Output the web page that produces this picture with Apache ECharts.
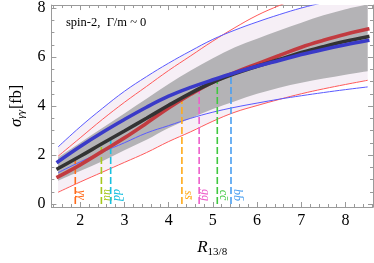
<!DOCTYPE html>
<html><head><meta charset="utf-8">
<script src="https://cdn.jsdelivr.net/npm/echarts@6/dist/echarts.min.js"></script>
<style>html,body{margin:0;padding:0;background:#fff}#c{width:374px;height:263px}</style>
</head><body><div id="c"></div>
<script>
// sample positions along R_13/8
const xs = [1.5,2,2.5,3,3.5,4,4.5,5,5.5,6,6.5,7,7.5,8,8.5];
// thick curves
const combined = [1.45,1.95,2.47,2.98,3.5,4.03,4.53,4.97,5.32,5.62,5.9,6.18,6.42,6.64,6.83];
const atlas    = [1.11,1.6,2.15,2.7,3.3,3.92,4.48,4.98,5.37,5.72,6.06,6.4,6.68,6.93,7.14];
const cms      = [1.73,2.35,2.92,3.45,3.95,4.4,4.76,5.07,5.36,5.62,5.86,6.1,6.31,6.5,6.67];
// thin bound lines
const atlasUp = [1.95,2.7,3.45,4.15,4.8,5.45,6.05,6.65,7.2,7.7,8.1,8.45,8.75,9.05,9.3];
const atlasLo = [0.48,0.9,1.3,1.7,2.1,2.55,2.95,3.38,3.75,4.02,4.27,4.5,4.7,4.88,5.05];
const cmsUp   = [2.33,3.15,3.9,4.6,5.2,5.75,6.25,6.72,7.1,7.43,7.73,8.0,8.22,8.42,8.6];
const cmsLo   = [1.28,1.72,2.12,2.5,2.9,3.2,3.5,3.75,3.95,4.12,4.28,4.42,4.55,4.67,4.78];
// bands
const band1Up = [1.9,2.5,3.1,3.7,4.3,4.9,5.45,5.95,6.4,6.75,7.08,7.4,7.7,7.95,8.15];
const band1Lo = [0.95,1.35,1.75,2.2,2.62,3.1,3.5,3.88,4.2,4.5,4.75,4.95,5.12,5.28,5.42];
const band2Up = [2.33,3.15,3.9,4.6,5.2,5.75,6.25,6.72,7.1,7.43,7.73,8.0,8.22,8.42,8.6];
const band2Lo = [0.48,0.9,1.3,1.7,2.1,2.55,2.95,3.38,3.75,4.02,4.27,4.5,4.7,4.88,5.05];
// production channels: name, R value, top of dashed line
const chNames = ['γγ','uū','dd\u0304','ss\u0304','gg','cc\u0304','bb\u0304'];
const chR     = [1.89,2.48,2.69,4.3,4.69,5.1,5.41];
const chTop   = [1.8,2.5,2.7,4.38,4.8,5.05,5.27];
const chColors = ['#ff6a1a','#a6c81e','#18c0e0','#ffaa1a','#ee5ecb','#40c840','#4a9ff0'];
// ticks
const xMajor = [2,3,4,5,6,7,8];
const xMinor = [1.4,1.6,1.8,2.2,2.4,2.6,2.8,3.2,3.4,3.6,3.8,4.2,4.4,4.6,4.8,5.2,5.4,5.6,5.8,6.2,6.4,6.6,6.8,7.2,7.4,7.6,7.8,8.2,8.4,8.6];
const yMajor = [0,2,4,6,8];
const yMinor = [0.5,1,1.5,2.5,3,3.5,4.5,5,5.5,6.5,7,7.5];

const SERIF = '"Liberation Serif","DejaVu Serif",serif';
const FRAME = '#9a9a9a';
const XMIN = 1.35, XMAX = 8.62, YMIN = -0.12, YMAX = 8.12;

const pairs = a => xs.map((x,i)=>[x,a[i]]);

function axX(pos, ticks, len, showLine, labels, extra){
  return Object.assign({type:'value', min:XMIN, max:XMAX, position:pos, gridIndex:0,
    axisLine:{show:showLine, onZero:false, lineStyle:{color:FRAME,width:1}},
    axisTick:{show:true, inside:true, length:len, customValues:ticks, lineStyle:{color:FRAME,width:1}},
    axisLabel: labels ? {show:true, customValues:labels, color:'#000', fontFamily:SERIF, fontSize:16, margin:6} : {show:false},
    splitLine:{show:false}}, extra||{});
}
function axY(pos, ticks, len, showLine, labels, extra){
  return Object.assign({type:'value', min:YMIN, max:YMAX, position:pos, gridIndex:0,
    axisLine:{show:showLine, onZero:false, lineStyle:{color:FRAME,width:1}},
    axisTick:{show:true, inside:true, length:len, customValues:ticks, lineStyle:{color:FRAME,width:1}},
    axisLabel: labels ? {show:true, customValues:labels, color:'#000', fontFamily:SERIF, fontSize:16, margin:6} : {show:false},
    splitLine:{show:false}}, extra||{});
}

const SM = 0.4;
function thin(data, color){
  return {type:'line', data:pairs(data), smooth:SM, symbol:'none', silent:true,
    lineStyle:{color:color, width:1}, z:4};
}
function thick(data, color, z){
  return {type:'line', data:pairs(data), smooth:SM, symbol:'none', silent:true,
    lineStyle:{color:color, width:3.6, cap:'square'}, z:z};
}
// Catmull-Rom path through screen points
function crPath(pts, start){
  let d = start ? 'M'+pts[0][0]+' '+pts[0][1] : 'L'+pts[0][0]+' '+pts[0][1];
  const n = pts.length;
  for (let i=0;i<n-1;i++){
    const p0 = pts[Math.max(0,i-1)], p1 = pts[i], p2 = pts[i+1], p3 = pts[Math.min(n-1,i+2)];
    const c1 = [p1[0]+(p2[0]-p0[0])/6, p1[1]+(p2[1]-p0[1])/6];
    const c2 = [p2[0]-(p3[0]-p1[0])/6, p2[1]-(p3[1]-p1[1])/6];
    d += ' C'+c1[0]+' '+c1[1]+' '+c2[0]+' '+c2[1]+' '+p2[0]+' '+p2[1];
  }
  return d;
}
function band(lo, up, color, z){
  return {type:'custom', silent:true, z:z, clip:true,
    data:xs.map((x,i)=>[x, lo[i], up[i]]),
    renderItem:function(params, api){
      if (params.dataIndex !== 0) return null;
      const upPts = xs.map((x,i)=>api.coord([x, up[i]]));
      const loPts = xs.map((x,i)=>api.coord([x, lo[i]])).reverse();
      const d = crPath(upPts, true) + ' ' + crPath(loPts, false) + ' Z';
      return {type:'path', shape:{pathData:d}, style:{fill:color, stroke:null}};
    }};
}

const channelData = chR.map((r,i)=>[r, chTop[i], i]);

const option = {
  animation:false,
  grid:{left:46, right:1, top:5, bottom:56},
  xAxis:[
    axX('bottom', xMajor, 5, true, xMajor, {
      name:'{r|R}{s|13/8}', nameLocation:'middle', nameGap:31,
      nameTextStyle:{rich:{
        r:{fontFamily:SERIF, fontStyle:'italic', fontSize:17, color:'#000'},
        s:{fontFamily:SERIF, fontSize:11, color:'#000', padding:[9,0,0,0]}
      }}}),
    axX('bottom', xMinor, 3, false, null),
    axX('top', xMajor, 5, true, null),
    axX('top', xMinor, 3, false, null)
  ],
  yAxis:[
    axY('left', yMajor, 5, true, yMajor, {
      name:'{r|σ}{s|γγ}{n|[fb]}', nameLocation:'middle', nameGap:20, nameRotate:90,
      nameTextStyle:{rich:{
        r:{fontFamily:SERIF, fontStyle:'italic', fontSize:17, color:'#000'},
        s:{fontFamily:SERIF, fontStyle:'italic', fontSize:11, color:'#000', padding:[9,1,0,0]},
        n:{fontFamily:SERIF, fontSize:16, color:'#000'}
      }}}),
    axY('left', yMinor, 3, false, null),
    axY('right', yMajor, 5, true, null),
    axY('right', yMinor, 3, false, null)
  ],
  series:[
    band(band2Lo, band2Up, '#f6eff6', 1),
    band(band1Lo, band1Up, '#b4b3b6', 2),
    thin(atlasUp, '#ff5a5a'),
    thin(atlasLo, '#ff5a5a'),
    thin(cmsUp, '#5a5aff'),
    thin(cmsLo, '#5a5aff'),
    {type:'custom', data:channelData, silent:true, z:5,
      renderItem:function(params, api){
        const x = api.value(0), top = api.value(1), i = api.value(2);
        const p0 = api.coord([x,0]), p1 = api.coord([x,top]);
        return {type:'group', children:[
          {type:'line', shape:{x1:p0[0], y1:p0[1], x2:p1[0], y2:p1[1]},
            style:{stroke:chColors[i], lineWidth:1.6, lineDash:[7,3]}},
          {type:'text', x:p0[0]+6, y:p0[1]-9, rotation:-Math.PI/2,
            style:{text:chNames[i], fill:chColors[i], font:'italic 12px '+SERIF, align:'center', verticalAlign:'middle'}}
        ]};
      }},
    thick(atlas, '#c23b40', 6),
    thick(combined, '#333333', 7),
    thick(cms, '#3a3ac8', 8)
  ],
  graphic:[
    {type:'text', left:66, top:16, style:{text:'spin-2,  Γ/m ~ 0', fill:'#000', font:'12.5px '+SERIF}},
    {type:'text', x:300, y:65, rotation:0.2, style:{text:'CMS', fill:'#2222dd', font:'13px '+SERIF, align:'center', verticalAlign:'middle'}}
  ]
};
const chart = echarts.init(document.getElementById('c'), null, {renderer:'canvas'});
chart.setOption(option);
</script></body></html>
